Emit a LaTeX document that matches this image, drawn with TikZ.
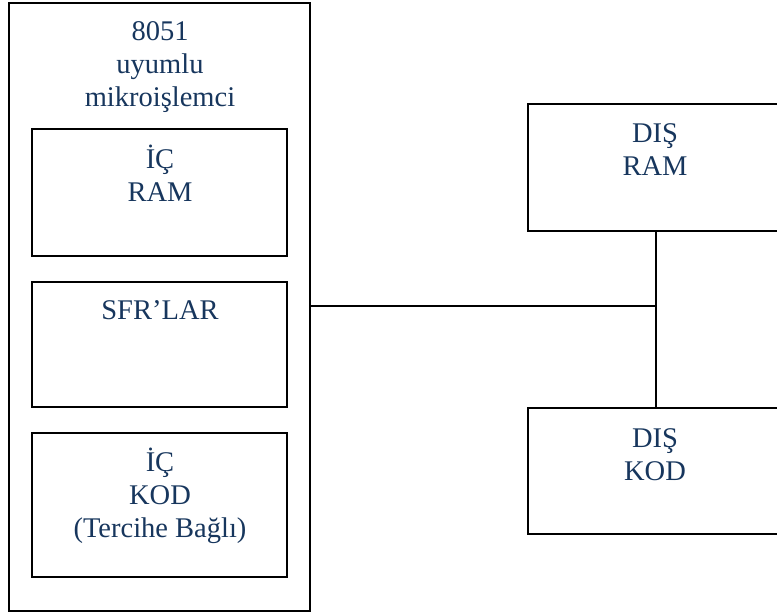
\documentclass[tikz,border=0pt]{standalone}
\usepackage{fontspec}
\setmainfont{Liberation Serif}
\definecolor{txtblue}{RGB}{23,54,93}
\tikzset{
  box/.style={draw=black, line width=2pt, rectangle, inner sep=0pt, outer sep=0pt},
  lbl/.style={text=txtblue, align=center, inner sep=0pt, anchor=base,
              font=\fontsize{28.5}{33}\selectfont},
  wire/.style={draw=black, line width=2pt}
}
\begin{document}
\begin{tikzpicture}[x=1pt, y=-1pt]
  \useasboundingbox (0,0) rectangle (777,612);
  \clip (0,0) rectangle (777,612);

  % microcontroller and its internal blocks
  \node[box, minimum width=301pt, minimum height=608pt] (mcu) at (159.5,307) {};
  \node[box, minimum width=255pt, minimum height=127pt] (iram) at (159.5,192.5) {};
  \node[box, minimum width=255pt, minimum height=125pt] (sfr) at (159.5,344.5) {};
  \node[box, minimum width=255pt, minimum height=144pt] (icode) at (159.5,505) {};

  % external memories
  \node[box, minimum width=254pt, minimum height=127pt] (xram) at (655,167.5) {};
  \node[box, minimum width=254pt, minimum height=126pt] (xcode) at (655,471) {};

  % labels (anchored at the baseline of their last line)
  \node[lbl] (tmcu) at (160,107) {8051\\uyumlu\\mikroişlemci};
  \node[lbl] (tiram) at (160,202) {İÇ\\RAM};
  \node[lbl] (tsfr) at (160,320) {SFR’LAR};
  \node[lbl] (ticode) at (160,537) {İÇ\\KOD\\(Tercihe Bağlı)};
  \node[lbl] (txram) at (655,176) {DIŞ\\RAM};
  \node[lbl] (txcode) at (655,480) {DIŞ\\KOD};

  % bus
  \coordinate (junc) at (656,306);
  \draw[wire] (junc -| mcu.east) -- (junc);
  \draw[wire] (xram.south -| junc) -- (xcode.north -| junc);
\end{tikzpicture}
\end{document}
